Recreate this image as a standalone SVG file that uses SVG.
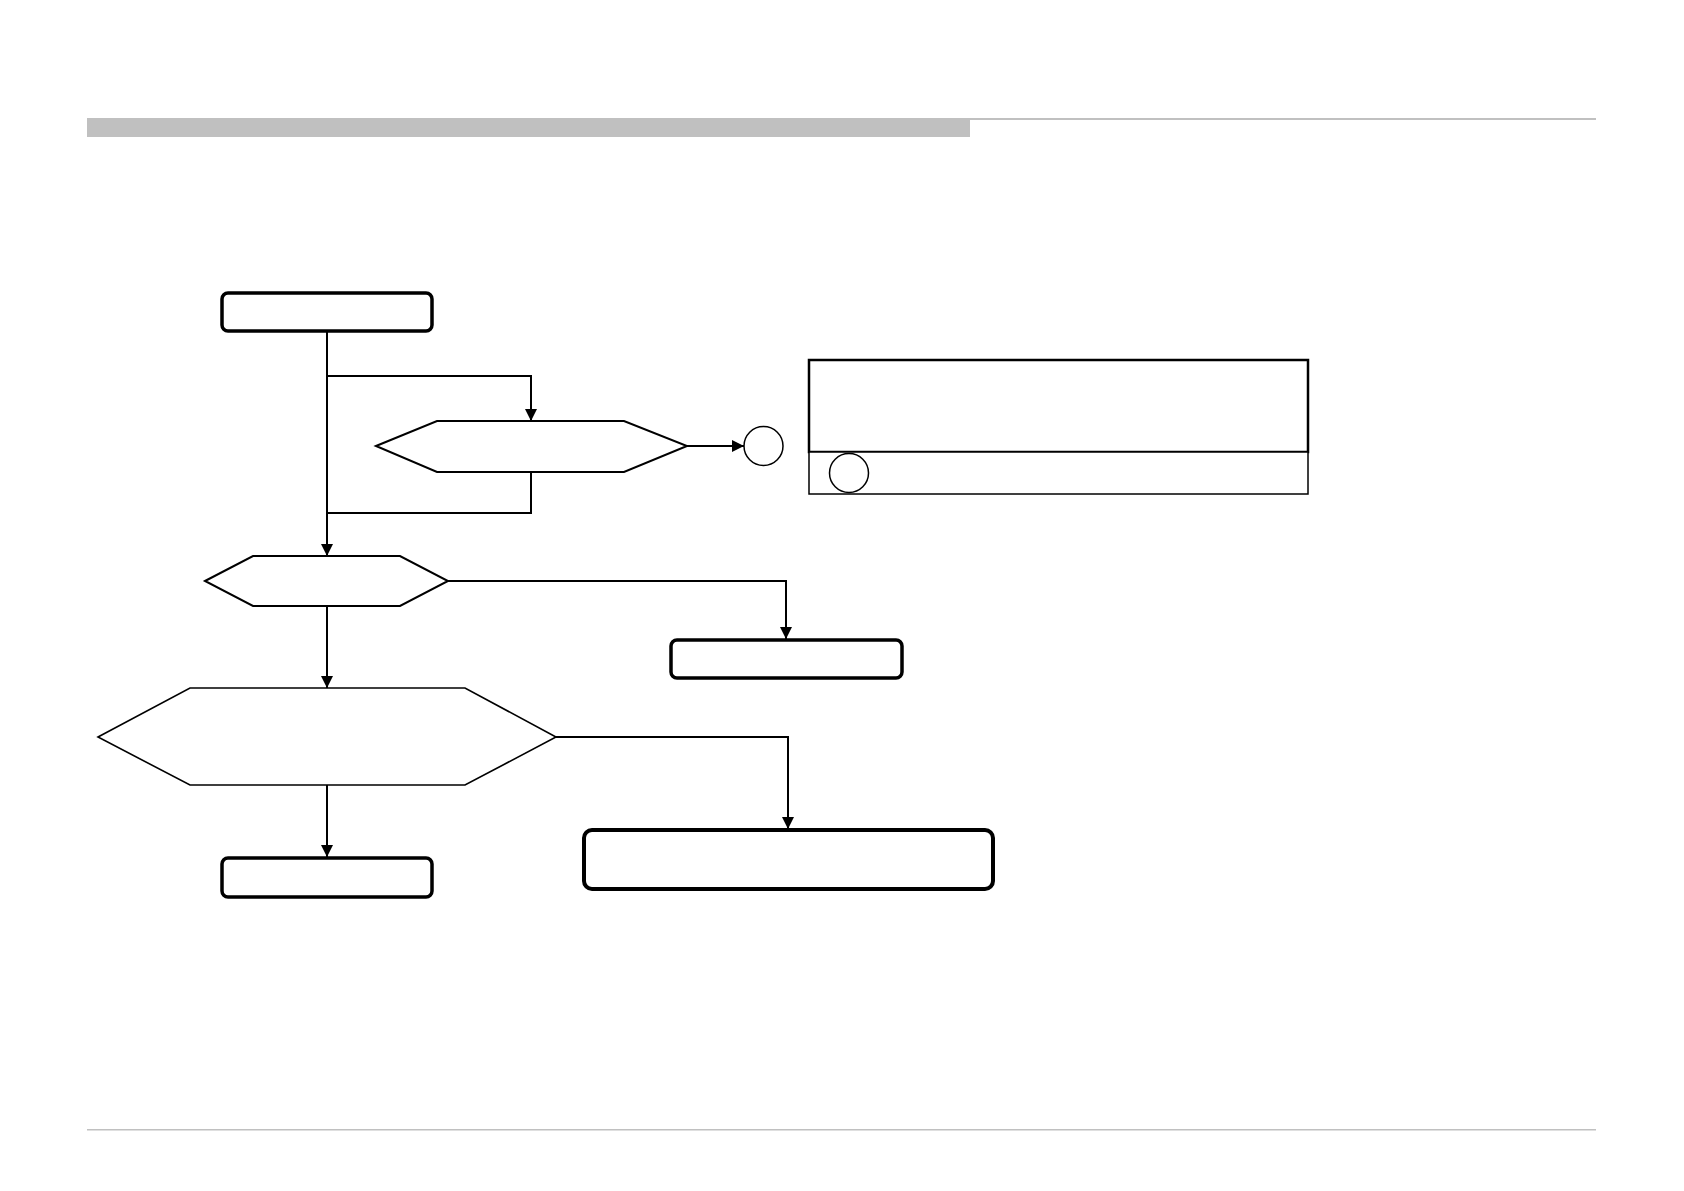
<svg xmlns="http://www.w3.org/2000/svg" width="1684" height="1191" viewBox="0 0 1684 1191">
<style>
.term{fill:#fff;stroke:#000;stroke-width:3.5}
.hex{fill:#fff;stroke:#000;stroke-width:2}
.conn{fill:none;stroke:#000;stroke-width:2}
.circ{fill:#fff;stroke:#000;stroke-width:1.5}
</style>
<defs>
<marker id="arr" viewBox="0 0 12 12" refX="12" refY="6" markerWidth="12" markerHeight="12" markerUnits="userSpaceOnUse" orient="auto">
<path d="M0,0 L12,6 L0,12 Z" fill="#000"/>
</marker>
</defs>
<rect width="1684" height="1191" fill="#fff"/>
<g id="header">
<rect x="87" y="118" width="883" height="19" fill="#c0c0c0"/>
<rect x="970" y="118" width="626" height="2" fill="#c0c0c0"/>
</g>
<g id="footer">
<rect x="87" y="1129" width="1509" height="1.5" fill="#c0c0c0"/>
</g>
<g id="connectors">
<path class="conn" d="M327,331 V556" marker-end="url(#arr)"/>
<path class="conn" d="M327,376 H531 V421" marker-end="url(#arr)"/>
<path class="conn" d="M531,472 V513 H327"/>
<path class="conn" d="M687,446 H744" marker-end="url(#arr)"/>
<path class="conn" d="M448,581 H786 V639" marker-end="url(#arr)"/>
<path class="conn" d="M327,606 V688" marker-end="url(#arr)"/>
<path class="conn" d="M556,737 H788 V829" marker-end="url(#arr)"/>
<path class="conn" d="M327,785 V857" marker-end="url(#arr)"/>
</g>
<g id="start"><rect class="term" x="222" y="293" width="210" height="38" rx="6"/></g>
<g id="decision1"><polygon class="hex" points="376,446 437,421 624,421 687,446 624,472 437,472"/></g>
<g id="connector-a"><circle class="circ" cx="763.5" cy="446" r="19.5"/></g>
<g id="note">
<rect x="809" y="360" width="499" height="92" fill="#fff" stroke="#000" stroke-width="2.5"/>
<rect x="809" y="452" width="499" height="42" fill="#fff" stroke="#000" stroke-width="1.5"/>
<circle class="circ" cx="849" cy="473" r="19.5"/>
</g>
<g id="decision2"><polygon class="hex" points="205,581 253,556 400,556 448,581 400,606 253,606"/></g>
<g id="end1"><rect class="term" x="671" y="640" width="231" height="38" rx="6"/></g>
<g id="decision3"><polygon class="hex" style="stroke-width:1.6" points="98,737 190,688 465,688 556,737 465,785 190,785"/></g>
<g id="end2"><rect class="term" x="222" y="858" width="210" height="39" rx="6"/></g>
<g id="end3"><rect class="term" style="stroke-width:4" x="584" y="830" width="409" height="59" rx="8"/></g>
</svg>
